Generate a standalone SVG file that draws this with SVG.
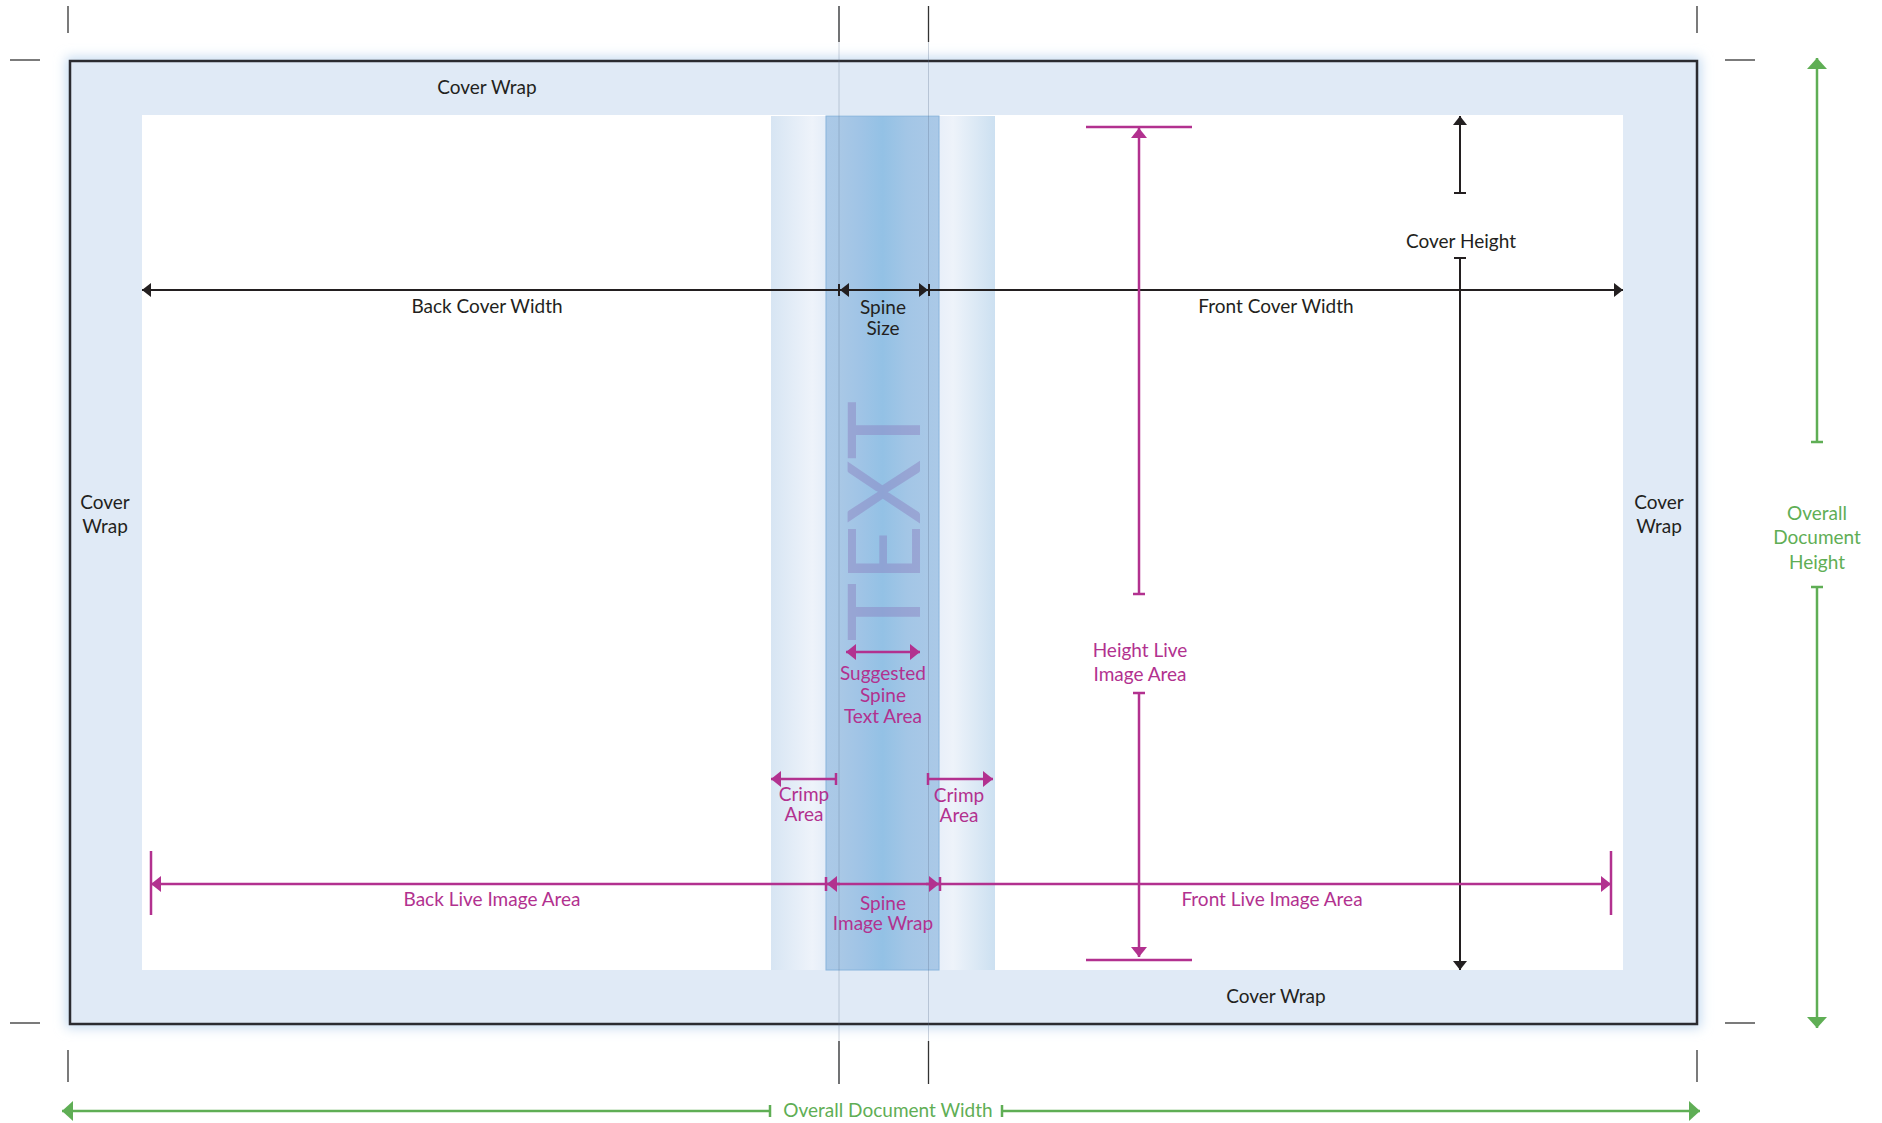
<svg xmlns="http://www.w3.org/2000/svg" width="1882" height="1123" viewBox="0 0 1882 1123">
<style>
.lbl{font-family:Lato,"Open Sans","Liberation Sans",sans-serif;font-size:19px;text-anchor:middle}
.k{fill:#231f20}.m{fill:#b2318f}.g{fill:#5fae55}
.dk{stroke:#231f20;stroke-width:2;fill:none}
.dm{stroke:#b2318f;stroke-width:2.5;fill:none}
.dg{stroke:#5fae55;stroke-width:2.5;fill:none}
.reg{stroke:#333;stroke-width:1.3}
.faint{stroke:#5a6f8c;stroke-width:1;opacity:0.3}
</style>
<defs>
<filter id="glow" x="-5%" y="-5%" width="110%" height="110%"><feGaussianBlur stdDeviation="6"/></filter>
<linearGradient id="spineG" x1="0" y1="0" x2="1" y2="0">
<stop offset="0" stop-color="#abc9e7"/><stop offset="0.12" stop-color="#a9c8e6"/><stop offset="0.3" stop-color="#a0c4e6"/><stop offset="0.5" stop-color="#93c1e5"/><stop offset="0.72" stop-color="#a3c6e6"/><stop offset="1" stop-color="#abc9e7"/>
</linearGradient>
<linearGradient id="crimpL" x1="0" y1="0" x2="1" y2="0">
<stop offset="0" stop-color="#d7e5f3"/><stop offset="0.75" stop-color="#eef3fa"/><stop offset="1" stop-color="#e4edf8"/>
</linearGradient>
<linearGradient id="crimpR" x1="0" y1="0" x2="1" y2="0">
<stop offset="0" stop-color="#e8eff9"/><stop offset="0.25" stop-color="#eef3fa"/><stop offset="1" stop-color="#cce0f1"/>
</linearGradient>
<marker id="ak" viewBox="0 0 9 14" refX="9" refY="7" markerWidth="9" markerHeight="14" markerUnits="userSpaceOnUse" orient="auto-start-reverse"><path d="M0,0L9,7L0,14z" fill="#231f20"/></marker>
<marker id="am" viewBox="0 0 10 16" refX="10" refY="8" markerWidth="10" markerHeight="16" markerUnits="userSpaceOnUse" orient="auto-start-reverse"><path d="M0,0L10,8L0,16z" fill="#b2318f"/></marker>
<marker id="ag" viewBox="0 0 11 20" refX="11" refY="10" markerWidth="11" markerHeight="20" markerUnits="userSpaceOnUse" orient="auto-start-reverse"><path d="M0,0L11,10L0,20z" fill="#5fae55"/></marker>
</defs>
<rect width="1882" height="1123" fill="#ffffff"/>

<g id="cover-frame">
<rect x="66" y="57" width="1635" height="971" fill="#c6dcf1" filter="url(#glow)"/>
<rect x="70" y="61" width="1627" height="963" fill="#e0eaf6" stroke="#2b2b30" stroke-width="2.5"/>
<rect x="142" y="115" width="1481" height="855" fill="#ffffff"/>
</g>

<g id="spine">
<rect id="crimp-left" x="771" y="116" width="55" height="854" fill="url(#crimpL)"/>
<rect id="crimp-right" x="939" y="116" width="56" height="854" fill="url(#crimpR)"/>
<rect id="spine-wrap" x="826" y="116" width="113" height="854" fill="url(#spineG)" stroke="#88b4dc" stroke-width="1"/>
<text x="0" y="0" transform="translate(920,521) rotate(-90)" font-family="Lato,'Open Sans',sans-serif" font-size="100" text-anchor="middle" fill="#8a7fc0" opacity="0.45">TEXT</text>
<line class="faint" x1="839" y1="6" x2="839" y2="1084"/>
<line class="faint" x1="928.5" y1="6" x2="928.5" y2="1084"/>
</g>

<g id="registration">
<line class="reg" x1="68" y1="6" x2="68" y2="33"/>
<line class="reg" x1="839" y1="6" x2="839" y2="42"/>
<line class="reg" x1="928.5" y1="6" x2="928.5" y2="42"/>
<line class="reg" x1="1697" y1="6" x2="1697" y2="33"/>
<line class="reg" x1="10" y1="60" x2="40" y2="60"/>
<line class="reg" x1="10" y1="1023" x2="40" y2="1023"/>
<line class="reg" x1="1725" y1="60" x2="1755" y2="60"/>
<line class="reg" x1="1725" y1="1023" x2="1755" y2="1023"/>
<line class="reg" x1="68" y1="1050" x2="68" y2="1082"/>
<line class="reg" x1="839" y1="1041" x2="839" y2="1084"/>
<line class="reg" x1="928.5" y1="1041" x2="928.5" y2="1084"/>
<line class="reg" x1="1697" y1="1050" x2="1697" y2="1082"/>
</g>

<g id="connectors">
<!-- black: cover widths, spine size, cover height -->
<path class="dk" d="M142,290H1623" marker-start="url(#ak)" marker-end="url(#ak)"/>
<path class="dk" d="M852,290H840" marker-end="url(#ak)"/>
<path class="dk" d="M916,290H928" marker-end="url(#ak)"/>
<path class="dk" d="M839,284V296M929,284V296"/>
<path class="dk" d="M1460,193V116" marker-end="url(#ak)"/>
<path class="dk" d="M1454,193H1466M1454,258H1466"/>
<path class="dk" d="M1460,258V970" marker-end="url(#ak)"/>
<!-- magenta: live image areas -->
<path class="dm" d="M151,884H1611" marker-start="url(#am)" marker-end="url(#am)"/>
<path class="dm" d="M151,851V915M1611,851V915"/>
<path class="dm" d="M840,884H827" marker-end="url(#am)"/>
<path class="dm" d="M926,884H939" marker-end="url(#am)"/>
<path class="dm" d="M826,877V891M940,877V891"/>
<path class="dm" d="M836,779H771" marker-end="url(#am)"/>
<path class="dm" d="M836,773V785"/>
<path class="dm" d="M928,779H993" marker-end="url(#am)"/>
<path class="dm" d="M928,773V785"/>
<path class="dm" d="M846,652H920" marker-start="url(#am)" marker-end="url(#am)"/>
<path class="dm" d="M1139,594V128" marker-end="url(#am)"/>
<path class="dm" d="M1133,594H1145M1133,693H1145"/>
<path class="dm" d="M1139,693V957" marker-end="url(#am)"/>
<path class="dm" d="M1086,127H1192M1086,960H1192" stroke-width="3"/>
<!-- green: overall document -->
<path class="dg" d="M1817,442V58" marker-end="url(#ag)"/>
<path class="dg" d="M1811,442H1823M1811,587H1823"/>
<path class="dg" d="M1817,587V1028" marker-end="url(#ag)"/>
<path class="dg" d="M770,1111H62" marker-end="url(#ag)"/>
<path class="dg" d="M770,1105V1117M1002,1105V1117"/>
<path class="dg" d="M1002,1111H1700" marker-end="url(#ag)"/>
</g>

<g id="labels">
<g id="cover-wrap-top"><text class="lbl k" x="487" y="94">Cover Wrap</text></g>
<g id="cover-wrap-bottom"><text class="lbl k" x="1276" y="1003">Cover Wrap</text></g>
<g id="cover-wrap-left"><text class="lbl k" x="105" y="509">Cover</text><text class="lbl k" x="105" y="533">Wrap</text></g>
<g id="cover-wrap-right"><text class="lbl k" x="1659" y="509">Cover</text><text class="lbl k" x="1659" y="533">Wrap</text></g>
<g id="back-cover-width"><text class="lbl k" x="487" y="313">Back Cover Width</text></g>
<g id="front-cover-width"><text class="lbl k" x="1276" y="313">Front Cover Width</text></g>
<g id="spine-size"><text class="lbl k" x="883" y="314">Spine</text><text class="lbl k" x="883" y="335">Size</text></g>
<g id="cover-height"><text class="lbl k" x="1461" y="248">Cover Height</text></g>
<g id="height-live"><text class="lbl m" x="1140" y="657">Height Live</text><text class="lbl m" x="1140" y="681">Image Area</text></g>
<g id="suggested-spine"><text class="lbl m" x="883" y="680">Suggested</text><text class="lbl m" x="883" y="702">Spine</text><text class="lbl m" x="883" y="723">Text Area</text></g>
<g id="crimp-left-label"><text class="lbl m" x="804" y="801">Crimp</text><text class="lbl m" x="804" y="821">Area</text></g>
<g id="crimp-right-label"><text class="lbl m" x="959" y="802">Crimp</text><text class="lbl m" x="959" y="822">Area</text></g>
<g id="back-live"><text class="lbl m" x="492" y="906">Back Live Image Area</text></g>
<g id="front-live"><text class="lbl m" x="1272" y="906">Front Live Image Area</text></g>
<g id="spine-image-wrap"><text class="lbl m" x="883" y="910">Spine</text><text class="lbl m" x="883" y="930">Image Wrap</text></g>
<g id="overall-height"><text class="lbl g" x="1817" y="520">Overall</text><text class="lbl g" x="1817" y="544">Document</text><text class="lbl g" x="1817" y="569">Height</text></g>
<g id="overall-width"><text class="lbl g" x="888" y="1117">Overall Document Width</text></g>
</g>
</svg>
